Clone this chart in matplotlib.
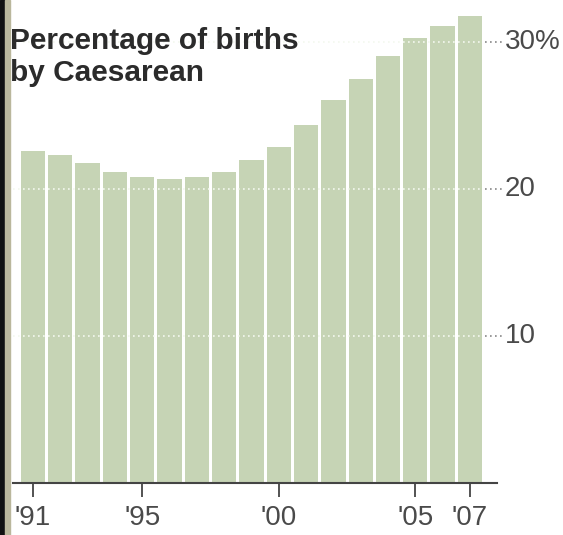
import matplotlib.pyplot as plt
from matplotlib.patches import Rectangle
from matplotlib.transforms import blended_transform_factory

# Caesarean share of births, 1991-2007 (percent)
years = list(range(1991, 2008))
rates = [22.6, 22.3, 21.8, 21.2, 20.8, 20.7, 20.8, 21.2, 22.0, 22.9,
         24.4, 26.1, 27.5, 29.1, 30.3, 31.1, 31.8]
xtick_years = [1991, 1995, 2000, 2005, 2007]
xtick_labels = ["'91", "'95", "'00", "'05", "'07"]
ytick_values = [10, 20, 30]
ytick_labels = ["10", "20", "30%"]

label_font = ['Liberation Sans', 'DejaVu Sans']
bar_color = '#c6d4b5'
grey = '#4a4a4a'

fig = plt.figure(figsize=(5.63, 5.35), dpi=100)
W, H = 563, 535

# axes placed in pixel terms: axis line from x=13 to 497, baseline y=483
ax = fig.add_axes([13 / W, (H - 483) / H, 484 / W, (483 - 10) / H])

pos = [y - years[0] for y in years]
ax.bar(pos, rates, width=0.89, color=bar_color, zorder=1)

ax.set_xlim(-0.73, 16.99)
ax.set_ylim(0, 32.2)

# dotted gridlines: white over the bars, grey leaders towards the labels
last_edge = pos[-1] + 0.445
for v in ytick_values:
    ax.hlines(v, -0.73, last_edge, colors='#f4f8ef', linestyles=(0, (1, 2)),
              linewidth=1.2, zorder=2)
    ax.hlines(v, last_edge + 0.1, 17.2, colors='#888888', linestyles=(0, (1, 2)),
              linewidth=1.2, zorder=2, clip_on=False)

trans = blended_transform_factory(ax.transAxes, ax.transData)
for v, lab in zip(ytick_values, ytick_labels):
    ax.text(1.016, v, lab, transform=trans, ha='left', va='center',
            fontsize=20, color=grey, family=label_font)

ax.set_yticks([])
ax.set_xticks([y - years[0] for y in xtick_years])
ax.set_xticklabels(xtick_labels, fontsize=20, color=grey, family=label_font)
ax.tick_params(axis='x', direction='out', length=10, width=1.3, color='#444444', pad=6)

for s in ['top', 'right', 'left']:
    ax.spines[s].set_visible(False)
ax.spines['bottom'].set_color('#444444')
ax.spines['bottom'].set_linewidth(1.5)

fig.text(10 / W, 1 - 27 / H, 'Percentage of births\nby Caesarean', ha='left', va='top',
         fontsize=21.5, fontweight='bold', color='#2b2b2b', family='Liberation Sans',
         linespacing=1.2)

# dark frame strip on the left edge
fig.patches.append(Rectangle((0, 0), 5 / W, 1, transform=fig.transFigure,
                             color='#111111', zorder=5))
fig.patches.append(Rectangle((5 / W, 0), 5 / W, 1, transform=fig.transFigure,
                             color='#bab79c', zorder=5))

fig.savefig('out.png', dpi=100)
